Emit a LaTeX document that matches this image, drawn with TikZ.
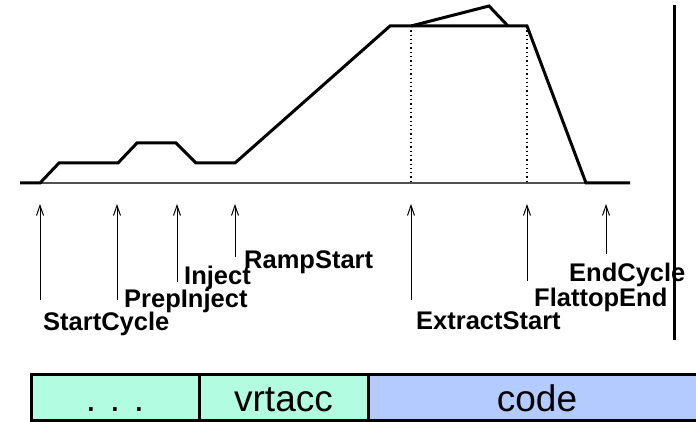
\documentclass[tikz,border=0pt]{standalone}
\usepackage{fontspec}
\setmainfont{Liberation Sans}
\usetikzlibrary{arrows.meta}
\definecolor{mint}{RGB}{178,252,225}
\definecolor{skyblue}{RGB}{179,203,255}
\definecolor{axisgray}{RGB}{80,80,80}
\tikzset{
  profile/.style={line width=3pt, line join=miter},
  axisline/.style={line width=1.6pt, draw=axisgray},
  guide/.style={line width=1.3pt, dash pattern=on 1.3pt off 3pt},
  marker/.style={line width=1pt, -{Straight Barb[length=10pt,width=7pt]}},
  evlabel/.style={anchor=base west, inner sep=0pt, font=\fontsize{25.5}{28}\selectfont\bfseries},
  segbox/.style={draw=black, line width=3pt},
  segtext/.style={inner sep=0pt, anchor=base, font=\fontsize{37}{40}\selectfont}
}
\begin{document}
\begin{tikzpicture}[x=1pt, y=-1pt]
  \useasboundingbox (0,0) rectangle (696,422);
  \clip (0,0) rectangle (696,422);

  % time axis
  \draw[axisline] (20,183) -- (630,183);

  % dotted guides under the flat top
  \draw[guide] (411,26) -- (411,183);
  \draw[guide] (527,26) -- (527,183);

  % machine cycle profile
  \draw[profile] (20,183) -- (40,183) -- (59,163) -- (118,163) -- (137,143)
    -- (176,143) -- (196,163) -- (235,163) -- (390,26) -- (527,26)
    -- (586,183) -- (630,183);
  \draw[profile] (411,26) -- (489,6) -- (508,26);

  % right-hand separator
  \draw[line width=3pt] (674,5) -- (674,340);

  % event markers
  \coordinate (tStart)   at (40,204);
  \coordinate (tPrep)    at (117,204);
  \coordinate (tInject)  at (177,204);
  \coordinate (tRamp)    at (235,204);
  \coordinate (tExtract) at (411,204);
  \coordinate (tFlat)    at (527,204);
  \coordinate (tEnd)     at (606,204);

  \coordinate (bStart)   at (40,300);
  \coordinate (bPrep)    at (117,300);
  \coordinate (bInject)  at (177,282);
  \coordinate (bRamp)    at (235,257);
  \coordinate (bExtract) at (411,300);
  \coordinate (bFlat)    at (527,281);
  \coordinate (bEnd)     at (606,254);

  \draw[marker] (bStart) -- (tStart);
  \draw[marker] (bPrep) -- (tPrep);
  \draw[marker] (bInject) -- (tInject);
  \draw[marker] (bRamp) -- (tRamp);
  \draw[marker] (bExtract) -- (tExtract);
  \draw[marker] (bFlat) -- (tFlat);
  \draw[marker] (bEnd) -- (tEnd);

  \node[evlabel] (lStart)   at (43,330)  {StartCycle};
  \node[evlabel] (lPrep)    at (124,307) {PrepInject};
  \node[evlabel] (lInject)  at (184,284) {Inject};
  \node[evlabel] (lRamp)    at (244,268) {RampStart};
  \node[evlabel] (lExtract) at (416,329) {ExtractStart};
  \node[evlabel] (lFlat)    at (534,306) {FlattopEnd};
  \node[evlabel] (lEnd)     at (569,281) {EndCycle};

  % segment bar
  \filldraw[segbox, fill=mint]    (31,374) rectangle (199,420);
  \filldraw[segbox, fill=mint]    (199,374) rectangle (368,420);
  \filldraw[segbox, fill=skyblue] (368,374) rectangle (706,420);
  \node[segtext] (sDots) at (115,411) {. . .};
  \node[segtext] (sVrt)  at (283.5,411) {vrtacc};
  \node[segtext] (sCode) at (537,411) {code};
\end{tikzpicture}
\end{document}
